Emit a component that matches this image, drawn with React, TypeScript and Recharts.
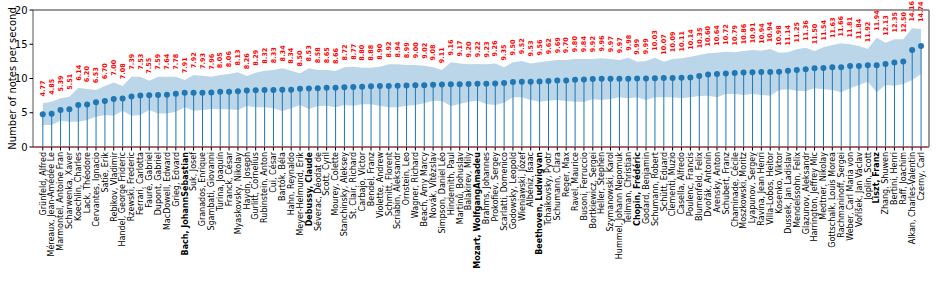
import React from 'react';
import {
  ComposedChart,
  Area,
  Bar,
  Line,
  XAxis,
  YAxis,
  ReferenceLine,
  LabelList,
} from 'recharts';

const composers = [
  'Grünfeld, Alfred', 'Méreaux, Jean-Amédée Le', 'Marmontel, Antoine Fran', 'Scharwenka, Xaver',
  'Koechlin, Charles', 'Lack, Théodore', 'Cervantes, Ignacio', 'Satie, Erik', 'Rebikov, Vladimir',
  'Handel, George Frideric', 'Rzewski, Frederic', 'Ferrari, Carlotta', 'Fauré, Gabriel',
  'Dupont, Gabriel', 'MacDowell, Edward', 'Grieg, Edvard', 'Bach, JohannSebastian', 'Suk, Josef',
  'Granados, Enrique', 'Sgambati, Giovanni', 'Turina, Joaquín', 'Franck, César',
  'Myaskovsky, Nikolay', 'Haydn, Joseph', 'Gurlitt, Cornelius', 'Rubinstein, Anton', 'Cui, César',
  'Bartók, Béla', 'Hahn, Reynaldo', 'Meyer-Helmund, Erik', 'Debussy, Claude', 'Séverac, Déodat de',
  'Scott, Cyril', 'Mourey, Colette', 'Stanchinsky, Aleksey', 'St. Clair, Richard', 'Carbajo, Víctor',
  'Bendel, Franz', 'Violette, Andrew', 'Schmitt, Florent', 'Scriabin, Aleksandr', 'Ornstein, Leo',
  'Wagner, Richard', 'Beach, Amy Marcy', 'Novák, Vítězslav', 'Simpson, Daniel Léo', 'Hindemith, Paul',
  'Martinů, Bohuslav', 'Balakirev, Mily', 'Mozart, WolfgangAmadeu', 'Brahms, Johannes',
  'Prokofiev, Sergey', 'Scarlatti, Domenico', 'Godowsky, Leopold', 'Wieniawski, Józef',
  'Albéniz, Isaac', 'Beethoven, Ludwigvan', 'Tchaikovsky, Pyotr', 'Schumann, Clara', 'Reger, Max',
  'Ravel, Maurice', 'Busoni, Ferruccio', 'Bortkiewicz, Sergei', 'Heller, Stephen',
  'Szymanowski, Karol', 'Hummel, Johann Nepomuk', 'Teilman, Christian', 'Chopin, Frédéric',
  'Godard, Benjamin', 'Schumann, Robert', 'Schütt, Eduard', 'Clementi, Muzio', 'Casella, Alfredo',
  'Poulenc, Francis', 'Blumenfeld, Felix', 'Dvořák, Antonín', 'Arensky, Anton', 'Schubert, Franz',
  'Chaminade, Cécile', 'Moszkowski, Moritz', 'Lyapunov, Sergey', 'Ravina, Jean Henri',
  'Villa-Lobos, Heitor', 'Kosenko, Viktor', 'Dussek, Jan Ladislav', 'Mendelssohn, Felix',
  'Glazunov, Aleksandr', 'Harrington, Jeffrey Mic', 'Medtner, Nikolay', 'Gottschalk, Louis Morea',
  'Rachmaninoff, Sergei', 'Weber, Carl Maria von', 'Voříšek, Jan Václav', 'Joplin, Scott',
  'Liszt, Franz', 'Zhang, Shuwen', 'Bertini, Henri', 'Raff, Joachim', 'Alkan, Charles-Valentin',
  'Czerny, Carl',
];

const notesPerSecond = [
  4.77, 4.85, 5.39, 5.51, 6.14, 6.2, 6.53, 6.7, 7.0, 7.08, 7.39, 7.53, 7.55, 7.59, 7.64, 7.78, 7.91,
  7.92, 7.93, 7.96, 8.05, 8.06, 8.13, 8.26, 8.29, 8.32, 8.33, 8.34, 8.34, 8.5, 8.53, 8.58, 8.65, 8.66,
  8.72, 8.77, 8.8, 8.88, 8.9, 8.92, 8.94, 8.99, 9.0, 9.02, 9.08, 9.11, 9.16, 9.17, 9.2, 9.22, 9.23,
  9.26, 9.35, 9.5, 9.52, 9.53, 9.56, 9.62, 9.69, 9.7, 9.8, 9.84, 9.92, 9.96, 9.97, 9.97, 9.98, 9.99,
  9.99, 10.03, 10.07, 10.09, 10.11, 10.14, 10.35, 10.6, 10.64, 10.72, 10.79, 10.86, 10.91, 10.94,
  10.94, 10.98, 11.14, 11.25, 11.36, 11.5, 11.54, 11.63, 11.66, 11.81, 11.84, 11.92, 11.94, 12.13,
  12.35, 12.5, 14.16, 14.74,
];

const bandUpper = [
  6.38, 6.62, 7.1, 7.35, 8.66, 8.47, 8.32, 8.9, 9.4, 8.9, 10.27, 10.27, 9.68, 10.27, 10.27, 10.27, 9.78,
  10.5, 10.4, 10.27, 10.5, 10.66, 10.9, 10.36, 10.85, 11.14, 11.24, 11.5, 11.14, 10.76, 11.5, 11.24,
  11.24, 11.1, 11.63, 11.73, 11.58, 11.58, 11.73, 12.07, 12.07, 11.97, 11.97, 11.87, 11.63, 11.24,
  12.36, 12.2, 12.07, 12.1, 12.07, 12.2, 11.63, 12.36, 12.55, 12.2, 12.36, 12.55, 12.7, 12.7, 12.85,
  12.85, 12.85, 12.94, 12.85, 12.7, 13.04, 12.46, 12.55, 13.04, 12.46, 12.85, 12.94, 13.18, 13.43,
  13.68, 13.77, 13.92, 13.82, 14.0, 14.16, 14.06, 14.3, 13.77, 13.82, 14.26, 14.5, 14.0, 14.55, 14.9,
  15.14, 15.0, 14.74, 14.3, 15.96, 15.23, 15.72, 15.72, 17.33, 17.23,
];

const bandLower = [
  3.2, 3.2, 3.84, 3.7, 3.7, 3.94, 4.43, 4.67, 4.57, 5.3, 4.57, 4.67, 5.4, 4.9, 4.9, 5.15, 5.8, 5.3,
  5.4, 5.55, 5.5, 5.5, 5.4, 6.0, 5.8, 5.8, 5.65, 5.26, 5.65, 6.13, 5.55, 6.0, 6.03, 5.8, 6.13, 6.03,
  6.23, 6.23, 6.03, 5.8, 5.8, 6.03, 6.13, 6.38, 6.76, 6.72, 6.0, 6.28, 6.62, 6.76, 6.28, 6.13, 6.47,
  7.25, 7.25, 6.86, 6.62, 6.76, 6.86, 6.72, 6.62, 6.62, 6.96, 6.86, 7.0, 7.25, 7.1, 7.25, 6.86, 7.25,
  7.25, 7.25, 7.1, 7.25, 7.45, 7.5, 7.25, 7.74, 7.74, 7.6, 7.74, 7.6, 7.5, 8.32, 8.42, 8.22, 8.18,
  8.57, 8.42, 8.32, 8.0, 8.57, 9.05, 9.53, 8.0, 9.05, 8.95, 9.2, 9.78, 10.66,
];

const highlighted = [
  'Bach, JohannSebastian',
  'Debussy, Claude',
  'Mozart, WolfgangAmadeu',
  'Beethoven, Ludwigvan',
  'Chopin, Frédéric',
  'Liszt, Franz',
];

const yTicks = [0, 5, 10, 15, 20];

const data = composers.map((name, i) => ({
  i,
  name,
  value: notesPerSecond[i],
  band: [bandLower[i], bandUpper[i]],
  labelAt: bandUpper[i] + 1,
}));

const BLUE = '#1f77b4';
const FONT = '"DejaVu Sans", sans-serif';

function ComposerTick(props: any) {
  const { x, y, payload } = props;
  const name = composers[payload.value];
  if (!name) return null;
  return (
    <text
      x={0}
      y={0}
      transform={`translate(${x},${y}) rotate(-90)`}
      dy="0.35em"
      textAnchor="end"
      fontSize={8}
      fontFamily={FONT}
      fontWeight={highlighted.includes(name) ? 'bold' : 'normal'}
      fill="#000"
    >
      {name}
    </text>
  );
}

function ValueLabel(props: any) {
  const { x, y, index } = props;
  return (
    <text
      x={0}
      y={0}
      transform={`translate(${x},${y}) rotate(-90)`}
      dy="0.35em"
      textAnchor="start"
      fontSize={6.5}
      fontFamily={FONT}
      fontWeight="bold"
      fill="#ff0000"
    >
      {notesPerSecond[index].toFixed(2)}
    </text>
  );
}

function YTitle(props: any) {
  const { viewBox } = props;
  const cx = 12;
  const cy = viewBox.y + viewBox.height / 2;
  return (
    <text
      x={0}
      y={0}
      transform={`translate(${cx},${cy}) rotate(-90)`}
      dy="0.35em"
      textAnchor="middle"
      fontSize={10}
      fontFamily={FONT}
      fill="#000"
    >
      Number of notes per second
    </text>
  );
}

export default function App() {
  const xMax = 99.9;
  return (
    <div style={{ width: 937, height: 281, background: '#fff' }}>
      <style>{'body{margin:0}'}</style>
      <ComposedChart
        width={937}
        height={281}
        data={data}
        margin={{ top: 10, right: 8, left: 0, bottom: 0 }}
      >
        <XAxis
          dataKey="i"
          type="number"
          domain={[-1.1, xMax]}
          ticks={data.map((d) => d.i)}
          interval={0}
          height={134}
          tick={<ComposerTick />}
          tickSize={3.5}
          tickMargin={1.5}
          tickLine={{ stroke: '#000' }}
          axisLine={{ stroke: '#a46a6a', strokeWidth: 2 }}
        />
        <YAxis
          type="number"
          domain={[0, 20]}
          ticks={yTicks}
          width={33}
          tick={{ fontSize: 10, fill: '#000', fontFamily: FONT }}
          tickSize={3.5}
          tickMargin={2}
          tickLine={{ stroke: '#000' }}
          axisLine={{ stroke: '#555' }}
          label={<YTitle />}
        />
        <ReferenceLine y={20} stroke="#777" strokeWidth={1.5} />
        <ReferenceLine x={xMax} stroke="#777" strokeWidth={1.5} />

        {/* spread band */}
        <Area
          type="linear"
          dataKey="band"
          stroke="none"
          fill={BLUE}
          fillOpacity={0.3}
          isAnimationActive={false}
        />

        {/* stems */}
        <Bar dataKey="value" barSize={1} fill={BLUE} isAnimationActive={false} />

        {/* markers */}
        <Line
          type="linear"
          dataKey="value"
          stroke="none"
          strokeWidth={0}
          dot={{ r: 3, fill: BLUE, stroke: 'none' }}
          activeDot={false}
          isAnimationActive={false}
        />

        {/* value labels above the band */}
        <Line
          type="linear"
          dataKey="labelAt"
          stroke="none"
          strokeWidth={0}
          dot={false}
          activeDot={false}
          isAnimationActive={false}
        >
          <LabelList dataKey="labelAt" content={<ValueLabel />} />
        </Line>
      </ComposedChart>
    </div>
  );
}
